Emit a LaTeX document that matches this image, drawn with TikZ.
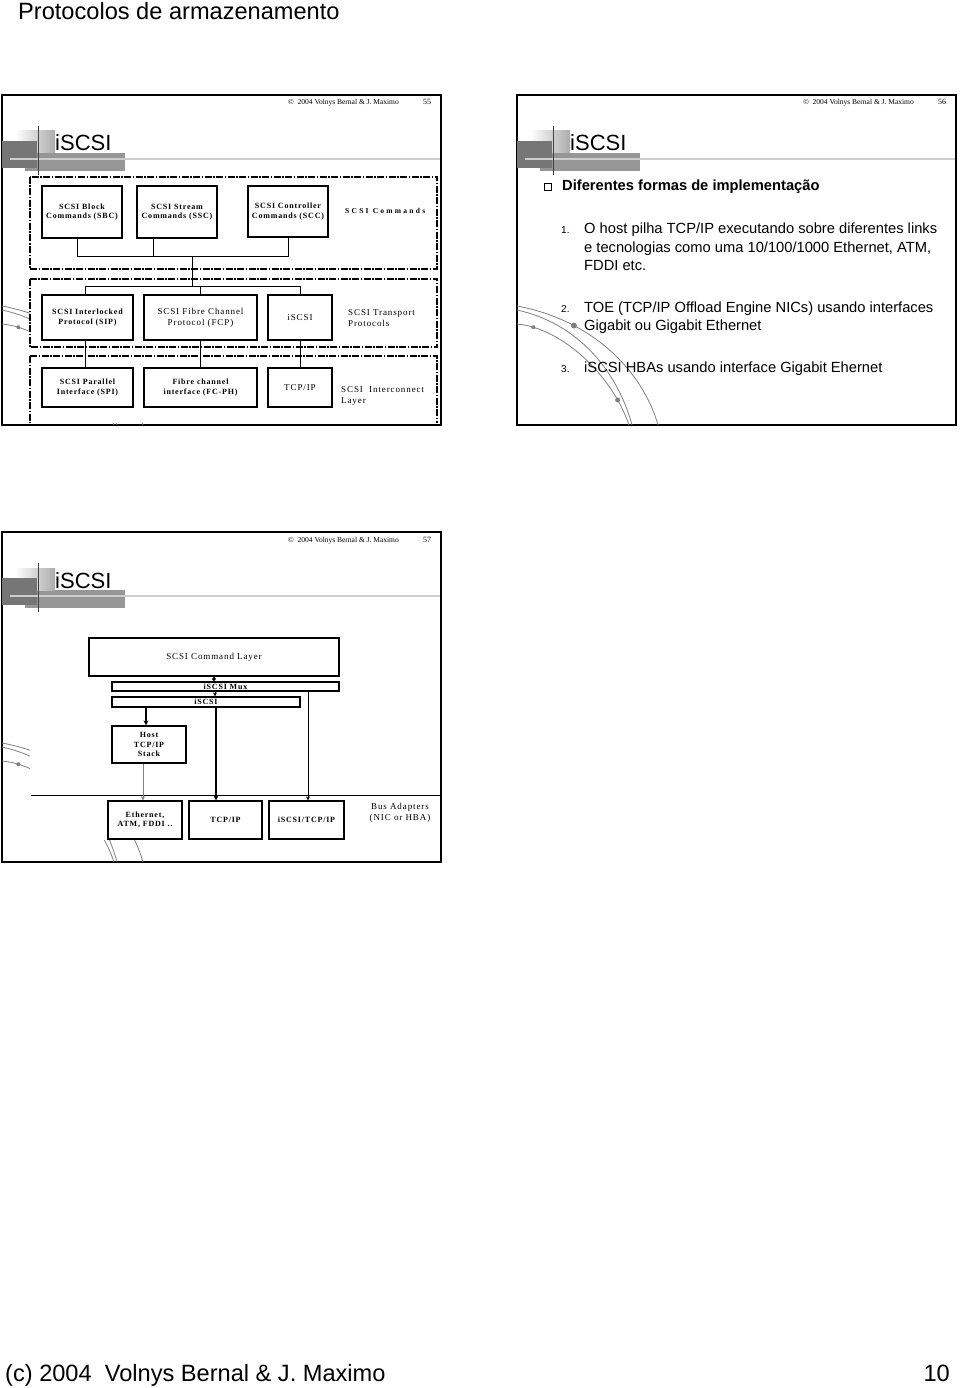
\documentclass[tikz,border=0pt]{standalone}
\usepackage{fontspec}
\setmainfont{Liberation Sans}
\newfontfamily\slideserif{Liberation Serif}
\newfontfamily\diagserif[LetterSpace=10]{Liberation Serif}
\newfontfamily\diagwide[LetterSpace=30]{Liberation Serif}
\usetikzlibrary{arrows.meta,positioning,calc}

\definecolor{swooshgray}{RGB}{128,128,128}
\definecolor{bargray}{RGB}{150,150,150}
\definecolor{blockgray}{RGB}{118,118,118}
\definecolor{rulegray}{RGB}{205,205,205}

\begin{document}
\begin{tikzpicture}[x=1pt,y=-1pt,
    slideframe/.style={draw=black,line width=2pt,fill=white},
    swoosh/.style={draw=swooshgray,line width=0.8pt},
    layerbox/.style={draw,line width=1.2pt,inner sep=0pt,align=center},
    groupbox/.style={line width=1.5pt,dash pattern=on 7pt off 1.5pt on 1.5pt off 1.5pt},
    wire/.style={line width=0.8pt},
    boldlbl/.style={font=\diagserif\bfseries\fontsize{8}{9.5}\selectfont},
    plainlbl/.style={font=\diagserif\fontsize{9}{11}\selectfont},
    widelbl/.style={font=\diagwide\bfseries\fontsize{7.5}{9}\selectfont},
    bodytext/.style={font=\fontsize{14.7}{18}\selectfont,inner sep=0pt,align=left},
    itemnum/.style={font=\fontsize{10}{12}\selectfont,inner sep=0pt},
    flow/.style={line width=0.8pt,-{Stealth[length=4pt,width=4pt]}},
    bigflow/.style={line width=1.8pt,-{Stealth[length=5pt,width=5pt]}}]

    \useasboundingbox (0,0) rectangle (960,1388);

    % Page title and footer.
    \node[anchor=base west,inner sep=0pt,font=\fontsize{23.6}{28}\selectfont] (pagetitle) at (18,20) {Protocolos de armazenamento};
    \node[anchor=base west,inner sep=0pt,font=\fontsize{23.6}{28}\selectfont] (pagefoot) at (5,1381) {(c) 2004\ \ Volnys Bernal \& J. Maximo};
    \node[anchor=base east,inner sep=0pt,font=\fontsize{23.6}{28}\selectfont] (pagenum) at (950,1381) {10};

    % Draw the three slide frames with their title bands.
    \foreach \ox/\oy/\num in {2/95/55, 517/95/56, 2/532/57}{
        \begin{scope}[shift={(\ox,\oy)}]
            \draw[slideframe] (0,0) rectangle (439,330);

            % The background swooshes.
            \draw[swoosh] (0,211) .. controls (75,225) and (125,275) .. (141,330) coordinate[pos=0.28] (dota\num);
            \draw[swoosh] (0,215) .. controls (60,228) and (100,275) .. (115,330);
            \draw[swoosh] (0,229) .. controls (45,233) and (95,280) .. (112,330) coordinate[pos=0.12] (dotb\num) coordinate[pos=0.83] (dotc\num);
            \fill[swooshgray] (dota\num) circle (3pt);
            \fill[swooshgray] (dotb\num) circle (2pt);
            \fill[swooshgray] (dotc\num) circle (2.5pt);

            % The title band.
            \fill[bargray] (23,58) rectangle (123,76);
            \shade[left color=white,right color=gray!65] (13,36) rectangle (53,58);
            \fill[blockgray] (0,46) rectangle (35,73);
            \draw[rulegray,line width=2pt] (8,64) -- (438,64);
            \draw[black!75,line width=1pt] (36,31) -- (36,80);
            \node[anchor=base west,inner sep=0pt,font=\fontsize{22}{26}\selectfont] (title\num) at (53,56) {iSCSI};

            % The stamp at the top.
            \node[anchor=base east,inner sep=0pt,font=\slideserif\fontsize{7.5}{9}\selectfont] (stamp\num) at (397,10) {©\ \ 2004 Volnys Bernal \& J. Maximo};
            \node[anchor=base,inner sep=0pt,font=\slideserif\fontsize{8}{9}\selectfont] (slidenum\num) at (425,10) {\num};
        \end{scope}
    }

    % Slide 55: the SCSI layers.
    \fill[white] (30,176) rectangle (438,423);
    \draw[groupbox] (30,177) rectangle (437,269);
    \draw[groupbox] (30,279) rectangle (437,347);
    \draw[groupbox] (30,356) -- (30,423);
    \draw[groupbox] (30,356) -- (437,356) -- (437,423);

    \node[layerbox,boldlbl,minimum width=80pt,minimum height=52pt] (sbc) at (82,212) {SCSI Block\\Commands (SBC)};
    \node[layerbox,boldlbl,minimum width=80pt,minimum height=52pt] (ssc) at (177,212) {SCSI Stream\\Commands (SSC)};
    \node[layerbox,boldlbl,minimum width=80pt,minimum height=51pt] (scc) at (288,211.5) {SCSI Controller\\Commands (SCC)};
    \node[widelbl,anchor=west,inner sep=0pt] (cmdtext) at (345,211) {SCSI Commands};

    \node[layerbox,boldlbl,minimum width=91pt,minimum height=45pt] (sip) at (87.5,317.5) {SCSI Interlocked\\Protocol (SIP)};
    \node[layerbox,plainlbl,minimum width=113pt,minimum height=45pt] (fcp) at (200.5,317.5) {SCSI Fibre Channel\\Protocol (FCP)};
    \node[layerbox,plainlbl,minimum width=64pt,minimum height=45pt] (tiscsi) at (300,317.5) {iSCSI};
    \node[plainlbl,anchor=west,align=left,inner sep=0pt] (transtext) at (348,318.5) {SCSI Transport\\Protocols};

    \node[layerbox,boldlbl,minimum width=91pt,minimum height=39pt] (spi) at (87.5,387.5) {SCSI Parallel\\Interface (SPI)};
    \node[layerbox,boldlbl,minimum width=113pt,minimum height=39pt] (fcph) at (200.5,387.5) {Fibre channel\\interface (FC-PH)};
    \node[layerbox,plainlbl,minimum width=64pt,minimum height=39pt] (ttcpip) at (300,387.5) {TCP/IP};
    \node[plainlbl,anchor=west,align=left,inner sep=0pt] (linktext) at (341,395.5) {SCSI\ \ Interconnect\\Layer};

    % Connect the layers.
    \coordinate (hub1) at (192,256);
    \coordinate (hub2) at (192,286);
    \draw[wire] ([xshift=-5pt]sbc.south) |- (hub1);
    \draw[wire] ([xshift=-24pt]ssc.south) |- (hub1);
    \draw[wire] (scc.south) |- (hub1);
    \draw[wire] (hub1) -- (hub2);
    \draw[wire] (hub2) -| ([xshift=-2.5pt]sip.north);
    \draw[wire] (hub2) -| (fcp.north);
    \draw[wire] (hub2) -| (tiscsi.north);
    \draw[wire] ([xshift=-2.5pt]sip.south) -- ([xshift=-2.5pt]spi.north);
    \draw[wire] (fcp.south) -- (fcph.north);
    \draw[wire] (tiscsi.south) -- (ttcpip.north);

    % Slide 56: the list.
    \node[draw,line width=0.8pt,minimum size=6.5pt,inner sep=0pt] (bullet) at (548,187) {};
    \node[anchor=west,inner sep=0pt,font=\bfseries\fontsize{14.7}{18}\selectfont] (heading) at (562,187) {Diferentes formas de implementação};

    \node[itemnum,anchor=base west] (num1) at (561,234) {1.};
    \node[bodytext,anchor=base west] (item1) at (584,270) {O host pilha TCP/IP executando sobre diferentes links\\e tecnologias como uma 10/100/1000 Ethernet, ATM,\\FDDI etc.};
    \node[itemnum,anchor=base west] (num2) at (561,312) {2.};
    \node[bodytext,anchor=base west] (item2) at (584,330) {TOE (TCP/IP Offload Engine NICs) usando interfaces\\Gigabit ou Gigabit Ethernet};
    \node[itemnum,anchor=base west] (num3) at (561,372) {3.};
    \node[bodytext,anchor=base west] (item3) at (584,372) {iSCSI HBAs usando interface Gigabit Ehernet};

    % Slide 57: the iSCSI stack.
    \fill[white] (30,616) rectangle (438,840);
    \node[layerbox,plainlbl,minimum width=250pt,minimum height=38pt] (cmdlayer) at (214,657) {SCSI Command Layer};
    \node[layerbox,boldlbl,minimum width=227pt,minimum height=9pt] (mux) at (225.5,686.5) {iSCSI Mux};
    \node[layerbox,boldlbl,minimum width=188pt,minimum height=10pt] (iscsibar) at (206,702) {iSCSI};
    \node[layerbox,boldlbl,minimum width=74pt,minimum height=37pt] (hoststack) at (149,744.5) {Host\\TCP/IP\\Stack};
    \draw[line width=1pt] (31,795) -- (440,795);
    \node[layerbox,boldlbl,minimum width=74pt,minimum height=38pt] (ethbox) at (145,820) {Ethernet,\\ATM, FDDI ..};
    \node[layerbox,boldlbl,minimum width=73pt,minimum height=38pt] (tcpbox) at (225.5,820) {TCP/IP};
    \node[layerbox,boldlbl,minimum width=75pt,minimum height=38pt] (iscsitcp) at (306.5,820) {iSCSI/TCP/IP};
    \node[plainlbl,align=center,inner sep=0pt] (bustext) at (400,812.5) {Bus Adapters\\(NIC or HBA)};

    \draw[line width=0.8pt,{Stealth[length=3pt,width=4pt]}-{Stealth[length=3pt,width=4pt]}] (cmdlayer.south) -- (cmdlayer.south |- mux.north);
    \draw[flow] ([xshift=-10.5pt]mux.south) -- ([xshift=9pt]iscsibar.north);
    \draw[bigflow] ([xshift=10pt]iscsibar.south) -- ([xshift=-9.5pt]tcpbox.north);
    \draw[bigflow] ([xshift=-60pt]iscsibar.south) -- ([xshift=-3pt]hoststack.north);
    \draw[flow,draw=gray] ([xshift=-6pt]hoststack.south) -- ([xshift=-2pt]ethbox.north);
    \draw[flow] ([xshift=82.5pt]mux.south) -- ([xshift=1.5pt]iscsitcp.north);

\end{tikzpicture}
\end{document}
